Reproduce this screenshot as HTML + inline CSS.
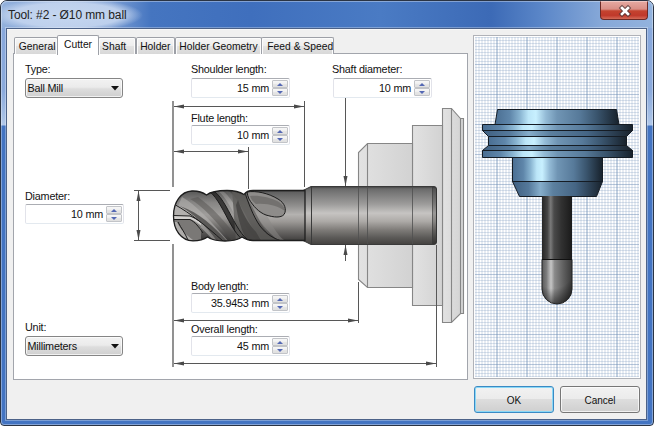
<!DOCTYPE html>
<html><head><meta charset="utf-8">
<style>
*{margin:0;padding:0;box-sizing:border-box}
html,body{width:654px;height:426px;overflow:hidden;background:#fff;font-family:"Liberation Sans",sans-serif;color:#000}
.a{position:absolute}
.t{position:absolute;font-size:10.8px;line-height:12px;white-space:nowrap;color:#111;letter-spacing:-0.2px}
.tab{position:absolute;top:37px;height:17px;border:1px solid #9da0a7;border-bottom:none;border-radius:2px 2px 0 0;background:linear-gradient(#f5f5f5,#eeeeee 50%,#e3e3e3 50%,#d8d8d8);box-shadow:inset 1px 1px 0 #fcfcfc,inset -1px 0 0 #fcfcfc;font-size:10.3px;line-height:17px;white-space:nowrap;color:#111;overflow:hidden}
.spin{position:absolute;width:99px;height:20px;border:1px solid #e2e3ea;border-top-color:#abadb3;border-bottom-color:#e3e9ef;border-radius:2px;background:#fff}
.spin .v{position:absolute;right:20px;top:3px;font-size:10.8px;line-height:12px;color:#111;white-space:nowrap;letter-spacing:-0.2px}
.spin .u,.spin .d{position:absolute;left:80px;width:16px;height:8px;border:1px solid #c2c4c8;border-radius:1px;background:linear-gradient(#f7f7f7,#efefef 50%,#e6e6e6 50%,#e0e0e0)}
.spin .u{top:1px}
.spin .d{top:9px}
.spin .u:after,.spin .d:after{content:"";position:absolute;left:4px;width:0;height:0;border-left:3.5px solid transparent;border-right:3.5px solid transparent}
.spin .u:after{top:1.5px;border-bottom:3.5px solid #5468b4}
.spin .d:after{top:1.5px;border-top:3.5px solid #5468b4}
.combo{position:absolute;width:98px;height:20px;border:1px solid #858585;border-radius:3px;box-shadow:inset 0 0 0 1px rgba(255,255,255,0.7);background:linear-gradient(#f2f2f2,#ebebeb 45%,#dddddd 55%,#cfcfcf);font-size:10.8px;line-height:18px;padding-left:1.5px;color:#111;letter-spacing:-0.2px}
.btn{position:absolute;top:386px;height:27px;border:1px solid #777;border-radius:3px;box-shadow:inset 0 0 0 1px rgba(255,255,255,0.7);background:linear-gradient(#f2f2f2,#ebebeb 50%,#dddddd 50%,#cfcfcf);font-size:10px;line-height:28px;text-align:center;color:#111}
</style></head><body>
<!-- window frame -->
<div class="a" style="left:0;top:0;width:654px;height:426px;border:1px solid #2a3444;border-radius:7px 7px 4px 4px;background:linear-gradient(#9ab6e0 0,#88a8dc 30px,#8baadc 90px,#a9c2e6 118px,#b2c9ea 124px,#4374c2 125px,#4374c2 100%);overflow:hidden">
  <div class="a" style="left:0;top:0;width:652px;height:27px;background:linear-gradient(90deg,#93b1dc 0,#7d9fd4 110px,#5a85c8 135px,#4575c0 150px,#3f6fbd 250px,#4a7bc4 380px,#3c6ab6 490px,#5a86c8 540px,#86a8d8 600px,#93b3de 652px)"></div>
  <div class="a" style="left:-6px;top:0;width:150px;height:28px;background:radial-gradient(ellipse 76px 17px at 72px 14px,rgba(200,217,241,0.95) 0%,rgba(196,213,239,0.9) 72%,rgba(190,208,236,0) 100%)"></div>
</div>
<!-- title -->
<div class="a" style="left:8px;top:8.5px;font-size:12px;line-height:13px;color:#222;white-space:nowrap;letter-spacing:-0.1px">Tool: #2 - Ø10 mm ball</div>
<!-- close button -->
<div class="a" style="left:600px;top:1px;width:48px;height:19px;border:1px solid #6b2a26;border-top:none;border-radius:0 0 4px 4px;background:linear-gradient(#e6aaa3,#d98f86 45%,#c4432f 55%,#c0392b 80%,#d46a58)"></div>
<svg class="a" style="left:617px;top:3px" width="16" height="15" viewBox="0 0 16 15"><path d="M4.5 5 L10.5 11 M10.5 5 L4.5 11" transform="translate(0.5,0)" stroke="#4a3436" stroke-opacity="0.75" stroke-width="4.6" stroke-linecap="square"/><path d="M4.5 5 L10.5 11 M10.5 5 L4.5 11" transform="translate(0.5,0)" stroke="#fff" stroke-width="2.6" stroke-linecap="square"/></svg>
<div class="a" style="left:1px;top:1px;width:652px;height:424px;border:1px solid rgba(255,255,255,0.35);border-radius:6px 6px 3px 3px"></div>
<div class="a" style="left:5px;top:27px;width:643px;height:394px;border:1px solid rgba(255,255,255,0.3)"></div>
<!-- client border and area -->
<div class="a" style="left:6px;top:28px;width:641px;height:392px;border:1px solid #4c6288;background:#f0f0f0"></div>
<div class="a" style="left:7px;top:29px;width:639px;height:1px;background:#f8f8f8"></div>

<!-- tab panel -->
<div class="a" style="left:13px;top:53px;width:455px;height:327px;border:1px solid #a2a5ac;background:#fff"></div>
<div class="tab" style="left:14px;width:44px;padding-left:3.8px">General</div>
<div class="tab" style="left:98px;width:38px;padding-left:3.1px">Shaft</div>
<div class="tab" style="left:136px;width:39px;padding-left:3.2px">Holder</div>
<div class="tab" style="left:175px;width:87px;padding-left:3.3px">Holder Geometry</div>
<div class="tab" style="left:261px;width:73px;padding-left:5.3px">Feed &amp; Speed</div>
<div class="tab" style="left:57px;top:35px;width:42px;height:20px;background:#fff;box-shadow:none;line-height:17px;padding-left:6px">Cutter</div>

<!-- drawings -->
<svg class="a" style="left:0;top:0" width="654" height="426" viewBox="0 0 654 426">
  <defs>
    <linearGradient id="shank" x1="0" y1="0" x2="0" y2="1">
      <stop offset="0" stop-color="#3e3e3e"/>
      <stop offset="0.04" stop-color="#6a6a6a"/>
      <stop offset="0.1" stop-color="#767676"/>
      <stop offset="0.3" stop-color="#9c9b9a"/>
      <stop offset="0.46" stop-color="#c6c4c2"/>
      <stop offset="0.6" stop-color="#adaaa7"/>
      <stop offset="0.75" stop-color="#7e7b78"/>
      <stop offset="0.88" stop-color="#5c5a58"/>
      <stop offset="1" stop-color="#444240"/>
    </linearGradient>
    <linearGradient id="holder" x1="0" y1="0" x2="1" y2="0">
      <stop offset="0" stop-color="#e2e2e2"/>
      <stop offset="1" stop-color="#d2d2d2"/>
    </linearGradient>
    <linearGradient id="blue" x1="0" y1="0" x2="1" y2="0">
      <stop offset="0" stop-color="#4a6e92"/>
      <stop offset="0.12" stop-color="#5f86aa"/>
      <stop offset="0.2" stop-color="#88b3d0"/>
      <stop offset="0.27" stop-color="#bce6f8"/>
      <stop offset="0.33" stop-color="#c8f0ff"/>
      <stop offset="0.41" stop-color="#94bbd6"/>
      <stop offset="0.5" stop-color="#7095b4"/>
      <stop offset="0.68" stop-color="#577a9a"/>
      <stop offset="0.82" stop-color="#3a556e"/>
      <stop offset="1" stop-color="#17212b"/>
    </linearGradient>
    <linearGradient id="blueD" x1="0" y1="0" x2="1" y2="0">
      <stop offset="0" stop-color="#3f5f80"/>
      <stop offset="0.18" stop-color="#55799b"/>
      <stop offset="0.31" stop-color="#86aecb"/>
      <stop offset="0.45" stop-color="#5c809f"/>
      <stop offset="0.7" stop-color="#456584"/>
      <stop offset="1" stop-color="#18222c"/>
    </linearGradient>
    <linearGradient id="dshank" x1="0" y1="0" x2="1" y2="0">
      <stop offset="0" stop-color="#2a2a2a"/>
      <stop offset="0.3" stop-color="#7a7a7a"/>
      <stop offset="0.55" stop-color="#3a3a3a"/>
      <stop offset="1" stop-color="#1a1a1a"/>
    </linearGradient>
    <linearGradient id="dcut" x1="0" y1="0" x2="1" y2="0">
      <stop offset="0" stop-color="#5a5a5a"/>
      <stop offset="0.15" stop-color="#7c7c7c"/>
      <stop offset="0.3" stop-color="#c6c6c6"/>
      <stop offset="0.42" stop-color="#8a8a8a"/>
      <stop offset="0.7" stop-color="#616161"/>
      <stop offset="1" stop-color="#3a3a3a"/>
    </linearGradient>
    <radialGradient id="balldark" gradientUnits="userSpaceOnUse" cx="553" cy="268" r="37">
      <stop offset="0.55" stop-color="#000" stop-opacity="0"/>
      <stop offset="1" stop-color="#000" stop-opacity="0.55"/>
    </radialGradient>
    <linearGradient id="dshank2" x1="0" y1="0" x2="1" y2="0">
      <stop offset="0" stop-color="#262626"/>
      <stop offset="0.18" stop-color="#444"/>
      <stop offset="0.29" stop-color="#7a7a7a"/>
      <stop offset="0.4" stop-color="#4a4a4a"/>
      <stop offset="0.65" stop-color="#313131"/>
      <stop offset="1" stop-color="#1a1a1a"/>
    </linearGradient>
    <linearGradient id="flute" gradientUnits="userSpaceOnUse" x1="0" y1="190" x2="0" y2="241">
      <stop offset="0" stop-color="#3e3e3e"/>
      <stop offset="0.05" stop-color="#626262"/>
      <stop offset="0.3" stop-color="#8e8d8c"/>
      <stop offset="0.48" stop-color="#b4b2b0"/>
      <stop offset="0.62" stop-color="#9c9996"/>
      <stop offset="0.8" stop-color="#6c6a68"/>
      <stop offset="1" stop-color="#3e3d3c"/>
    </linearGradient>
    <marker id="ar" viewBox="0 0 10 5" refX="10" refY="2.5" markerWidth="10" markerHeight="5" markerUnits="userSpaceOnUse" orient="auto-start-reverse">
      <path d="M0 0.5 L10 2.5 L0 4.5 Z" fill="#4a4a4a"/>
    </marker>
  </defs>

  <!-- grid view -->
  <rect x="473.5" y="35.5" width="167" height="343" fill="#fff" stroke="#b0b2b8"/>
<g shape-rendering="crispEdges">
<path d="M475 37.5H639 M475 40.5H639 M475 43.5H639 M475 46.5H639 M475 49.5H639 M475 52.5H639 M475 55.5H639 M475 58.5H639 M475 61.5H639 M475 67.5H639 M475 70.5H639 M475 73.5H639 M475 76.5H639 M475 79.5H639 M475 82.5H639 M475 85.5H639 M475 88.5H639 M475 91.5H639 M475 97.5H639 M475 100.5H639 M475 103.5H639 M475 106.5H639 M475 109.5H639 M475 112.5H639 M475 115.5H639 M475 118.5H639 M475 121.5H639 M475 127.5H639 M475 130.5H639 M475 133.5H639 M475 136.5H639 M475 139.5H639 M475 142.5H639 M475 145.5H639 M475 148.5H639 M475 151.5H639 M475 157.5H639 M475 160.5H639 M475 163.5H639 M475 166.5H639 M475 169.5H639 M475 172.5H639 M475 175.5H639 M475 178.5H639 M475 181.5H639 M475 187.5H639 M475 190.5H639 M475 193.5H639 M475 196.5H639 M475 199.5H639 M475 202.5H639 M475 205.5H639 M475 208.5H639 M475 211.5H639 M475 217.5H639 M475 220.5H639 M475 223.5H639 M475 226.5H639 M475 229.5H639 M475 232.5H639 M475 235.5H639 M475 238.5H639 M475 241.5H639 M475 247.5H639 M475 250.5H639 M475 253.5H639 M475 256.5H639 M475 259.5H639 M475 262.5H639 M475 265.5H639 M475 268.5H639 M475 271.5H639 M475 277.5H639 M475 280.5H639 M475 283.5H639 M475 286.5H639 M475 289.5H639 M475 292.5H639 M475 295.5H639 M475 298.5H639 M475 301.5H639 M475 307.5H639 M475 310.5H639 M475 313.5H639 M475 316.5H639 M475 319.5H639 M475 322.5H639 M475 325.5H639 M475 328.5H639 M475 331.5H639 M475 337.5H639 M475 340.5H639 M475 343.5H639 M475 346.5H639 M475 349.5H639 M475 352.5H639 M475 355.5H639 M475 358.5H639 M475 361.5H639 M475 367.5H639 M475 370.5H639 M475 373.5H639 M475 376.5H639" stroke="rgb(122,150,188)" stroke-opacity="0.27" stroke-width="1"/>
</g>
<path d="M476 37V377 M479 37V377 M482 37V377 M485 37V377 M488 37V377 M491 37V377 M494 37V377 M500 37V377 M503 37V377 M506 37V377 M509 37V377 M512 37V377 M515 37V377 M518 37V377 M521 37V377 M524 37V377 M530 37V377 M533 37V377 M536 37V377 M539 37V377 M542 37V377 M545 37V377 M548 37V377 M551 37V377 M554 37V377 M560 37V377 M563 37V377 M566 37V377 M569 37V377 M572 37V377 M575 37V377 M578 37V377 M581 37V377 M584 37V377 M590 37V377 M593 37V377 M596 37V377 M599 37V377 M602 37V377 M605 37V377 M608 37V377 M611 37V377 M614 37V377 M620 37V377 M623 37V377 M626 37V377 M629 37V377 M632 37V377 M635 37V377 M638 37V377" stroke="rgb(122,150,188)" stroke-opacity="0.36" stroke-width="1"/>
<path d="M475 64.5H639 M475 94.5H639 M475 124.5H639 M475 154.5H639 M475 184.5H639 M475 214.5H639 M475 244.5H639 M475 274.5H639 M475 304.5H639 M475 334.5H639 M475 364.5H639" stroke="rgb(108,140,180)" stroke-opacity="0.48" stroke-width="1" shape-rendering="crispEdges"/>
<path d="M497 37V377 M527 37V377 M557 37V377 M587 37V377 M617 37V377" stroke="rgb(108,140,180)" stroke-opacity="0.8" stroke-width="1"/>

  <!-- 3D holder (blue) -->
  <g stroke="#151c24" stroke-width="1">
    <path d="M497.5 109.5 L616.5 109.5 L619 124.5 L495 124.5 Z" fill="url(#blue)"/>
    <path d="M482.5 124.5 L632.5 124.5 L632.5 130.5 L482.5 130.5 Z" fill="url(#blue)"/>
    <path d="M482.5 130.5 L632.5 130.5 L626.5 136.5 L488.5 136.5 Z" fill="url(#blueD)"/>
    <path d="M488.5 136.5 L626.5 136.5 L626.5 145.5 L488.5 145.5 Z" fill="url(#blue)"/>
    <path d="M488.5 145.5 L626.5 145.5 L632.5 150.5 L482.5 150.5 Z" fill="url(#blueD)"/>
    <path d="M482.5 150.5 L632.5 150.5 L632.5 157.5 L482.5 157.5 Z" fill="url(#blue)"/>
    <path d="M512.5 157.5 L602.5 157.5 L602.5 181.5 L512.5 181.5 Z" fill="url(#blue)"/>
    <path d="M512.5 181.5 L602.5 181.5 L596.5 196.5 L519.5 196.5 Z" fill="url(#blueD)"/>
  </g>
  <rect x="542" y="196" width="30" height="64" fill="url(#dshank2)"/>
  <path d="M542 259.5 L572 259.5 L572 289 A15 15 0 0 1 542 289 Z" fill="url(#dcut)"/><path d="M542 259.5 L572 259.5 L572 289 A15 15 0 0 1 542 289 Z" fill="url(#balldark)" stroke="#222" stroke-width="1"/>
  <line x1="542" y1="259.5" x2="572" y2="259.5" stroke="#111"/>

  <!-- tool diagram: holder -->
  <g fill="url(#holder)" stroke="#868686" stroke-width="1.1">
    <path d="M442.5 108.5 L451.5 108.5 L460.5 118.5 L463.5 118.5 L463.5 313.5 L460.5 313.5 L451.5 322.5 L442.5 322.5 Z"/>
    <path d="M412.5 125.5 L442.5 125.5 L442.5 305.5 L412.5 305.5 Z"/>
    <path d="M367.5 143.5 L412.5 143.5 L412.5 287.5 L367.5 287.5 L358.5 279.5 L358.5 152.5 Z"/>
    <line x1="451.5" y1="108.5" x2="451.5" y2="322.5"/>
    <line x1="460.5" y1="118.5" x2="460.5" y2="313.5"/>
    <line x1="367.5" y1="143.5" x2="367.5" y2="287.5"/>
  </g>

  <!-- shank -->
  <path d="M303 190.5 L311 186.5 L434 186.5 Q436.5 186.5 436.5 189 L436.5 242 Q436.5 244.5 434 244.5 L311 244.5 L303 240.5 Z" fill="url(#shank)" stroke="#3a3a3a" stroke-width="1"/>
  <line x1="311.5" y1="187" x2="311.5" y2="244" stroke="#3a3a3a"/>
  <path d="M432 187 L434 187 Q436.5 187 436.5 189.5 L436.5 241.5 Q436.5 244 434 244 L432 244 Z" fill="#000" opacity="0.22"/>
  <line x1="432.5" y1="187" x2="432.5" y2="244" stroke="#3a3a3a" stroke-opacity="0.6"/>
  <g stroke="#505050" stroke-width="1" opacity="0.8">
    <line x1="358.5" y1="187" x2="358.5" y2="244"/>
    <line x1="367.5" y1="187" x2="367.5" y2="244"/>
    <line x1="412.5" y1="187" x2="412.5" y2="244"/>
  </g>

  <!-- cutter flutes -->
  <clipPath id="cutclip"><path d="M173.5 216 C173.5 202 181 191.5 192 191 C198 190.8 203 192.5 206.5 195 C211 191.5 219 190.5 227 190.5 C234 190.5 240 192 244 194.5 C246 191.5 249 190.5 253 190.5 L305 190.5 L305 240.5 L253 240.5 C249 240.5 245 239 242 237 C238 240 231 241 225 241 C218 241 211 239.5 207.5 237 C204 239.5 199 240.8 193 240.8 C181 240.5 173.5 230 173.5 216 Z"/></clipPath>
  <g clip-path="url(#cutclip)">
  <rect x="170" y="188" width="140" height="56" fill="url(#flute)"/>
  <path d="M140.0 189.0 C158.4 190.1 167.6 240.9 186.0 242.0 L290.0 242.0 C271.6 240.9 262.4 190.1 244.0 189.0 Z" fill="#8a8886" opacity="0.5"/>
  <clipPath id="rclip"><rect x="199" y="185" width="120" height="60"/></clipPath>
  <g>
  <path d="M212.0 189.0 C230.4 190.1 239.6 240.9 258.0 242.0 L263.0 242.0 C244.6 240.9 235.4 190.1 217.0 189.0 Z" fill="#bebcba" opacity="0.5"/>
  <path d="M223.0 189.0 C241.4 190.1 250.6 240.9 269.0 242.0 L280.0 242.0 C261.6 240.9 252.4 190.1 234.0 189.0 Z" fill="#4e4c4a" opacity="0.55"/>
  <path d="M203.0 189.0 C221.4 190.1 230.6 240.9 249.0 242.0 L254.0 242.0 C235.6 240.9 226.4 190.1 208.0 189.0 Z" fill="#3a3938"/>
  </g>
  <linearGradient id="fshade" gradientUnits="userSpaceOnUse" x1="0" y1="190" x2="0" y2="241"><stop offset="0" stop-color="#000" stop-opacity="0.25"/><stop offset="0.25" stop-color="#000" stop-opacity="0"/><stop offset="0.55" stop-color="#000" stop-opacity="0"/><stop offset="1" stop-color="#000" stop-opacity="0.45"/></linearGradient>
  <path d="M170 188 L246 188 C250 205 258 225 282 244 L170 244 Z" fill="url(#fshade)"/>
  <path d="M182 197 C196 205 210 220 228 241 L214 241 C202 228 192 218 178 206 Z" fill="#b6b4b2" opacity="0.55"/>
  <path d="M180 206 C194 214 206 226 217 241 L227 241 C213 226 200 213 180 206 Z" fill="#3e3d3c" opacity="0.7"/>
  <path d="M190 199 C202 206 214 218 232 241 L240 241 C224 220 212 207 198 197 Z" fill="#504e4c" opacity="0.45"/>
  <path d="M244 190 C248 202 253 216 260 226 C267 235 274 239 285 242 L236 242 L232 190 Z" fill="#5e5c5a" opacity="0.8"/>
  <path d="M238 200 C242 212 248 224 256 232 L262 242 L248 242 C242 232 238 220 236 205 Z" fill="#3e3d3c" opacity="0.7"/>
  <path d="M247 192 C256 190.5 268 193 278 199 C285 203 287 210 284 214.5 C281 218 274 217.5 266 215 C259 212.5 253 206 249 199 C248 197 247.5 194.5 247 192 Z" fill="#8e8c8a"/>
  <path d="M250 196 C258 195 270 197 279 202 C283 205 285 208 285 211 C278 206 268 203 256 204 C253 202 251 199 250 196 Z" fill="#6a6866" opacity="0.75"/>
  <path d="M173 204.5 L176 204.5 C184 209 192 214 201 222 L201 226 C196 222 193 219.5 190 218.5 L173 218.5 Z" fill="#b2b0ae"/>
  <path d="M173 215.5 L190 216 C194 217.5 198 220 201 222.5 L201 225 C197 222 194 220 190 219.2 L173 219 Z" fill="#d2d0ce"/>
  <path d="M173 219.5 L190 219.5 C194 221 198 223.5 201 226 L201 241 L186 241 C179 236 174 228 173 219.5 Z" fill="#7a7876"/>
  <path d="M173 222 C176 231 181 236 188 240 L193 240 C186 235 180 229 177 222 Z" fill="#aeacaa"/>
  <path d="M203.0 189.0 C221.4 190.1 230.6 240.9 249.0 242.0 M208.0 189.0 C226.4 190.1 235.6 240.9 254.0 242.0 M244 190 C248 202 253 216 260 226 C267 235 274 239 285 242 M247 192 C256 190.5 268 193 278 199 C285 203 287 210 284 214.5 C281 218 274 217.5 266 215 C259 212.5 253 206 249 199 C248 197 247.5 194.5 247 192 Z M175.5 205 C190 213 205 225 223 241 M173 215.5 L190 216 C194 217.5 198 220 201 222.5 M173 219.5 L190 219.5 C195 222 199 227 203 233 M188 240 C185 233 181 228 178 222" fill="none" stroke="#1c1c1c" stroke-width="1"/>
  </g>
  <path d="M173.5 216 C173.5 202 181 191.5 192 191 C198 190.8 203 192.5 206.5 195 C211 191.5 219 190.5 227 190.5 C234 190.5 240 192 244 194.5 C246 191.5 249 190.5 253 190.5 L305 190.5 L305 240.5 L253 240.5 C249 240.5 245 239 242 237 C238 240 231 241 225 241 C218 241 211 239.5 207.5 237 C204 239.5 199 240.8 193 240.8 C181 240.5 173.5 230 173.5 216 Z" fill="none" stroke="#1e1e1e" stroke-width="1.3"/>

  <!-- dimension lines -->
  <g stroke="#575757" stroke-width="1" fill="none">
    <line x1="173" y1="101" x2="173" y2="187" stroke-width="1.3"/>
    <line x1="173" y1="244" x2="173" y2="367" stroke-width="1.3"/>
    <line x1="304.5" y1="101" x2="304.5" y2="187"/>
    <line x1="248.5" y1="147" x2="248.5" y2="189"/>
    <line x1="358.5" y1="282" x2="358.5" y2="323"/>
    <line x1="436.5" y1="245" x2="436.5" y2="367"/>
    <line x1="134" y1="190.5" x2="170" y2="190.5"/>
    <line x1="134" y1="240.5" x2="170" y2="240.5"/>
    <line x1="174" y1="106.5" x2="304" y2="106.5" marker-start="url(#ar)" marker-end="url(#ar)"/>
    <line x1="174" y1="151.5" x2="248" y2="151.5" marker-start="url(#ar)" marker-end="url(#ar)"/>
    <line x1="174" y1="320.5" x2="358" y2="320.5" marker-start="url(#ar)" marker-end="url(#ar)"/>
    <line x1="174" y1="363.5" x2="436" y2="363.5" marker-start="url(#ar)" marker-end="url(#ar)"/>
    <line x1="138.5" y1="191" x2="138.5" y2="240" marker-start="url(#ar)" marker-end="url(#ar)"/>
    <line x1="345.5" y1="97" x2="345.5" y2="186" marker-end="url(#ar)"/>
    <line x1="345.5" y1="261" x2="345.5" y2="245" marker-end="url(#ar)"/>
  </g>
</svg>

<!-- widgets -->
<div class="t" style="left:25px;top:63px">Type:</div>
<div class="combo" style="left:25px;top:78px">Ball Mill<svg class="a" style="left:85px;top:7px" width="8" height="5"><path d="M0 0 L8 0 L4 4.5 Z" fill="#111"/></svg></div>

<div class="t" style="left:191px;top:63px">Shoulder length:</div>
<div class="spin" style="left:191px;top:78px"><div class="v">15 mm</div><div class="u"></div><div class="d"></div></div>

<div class="t" style="left:332px;top:63px">Shaft diameter:</div>
<div class="spin" style="left:333px;top:78px"><div class="v">10 mm</div><div class="u"></div><div class="d"></div></div>

<div class="t" style="left:191px;top:112px">Flute length:</div>
<div class="spin" style="left:191px;top:125px"><div class="v">10 mm</div><div class="u"></div><div class="d"></div></div>

<div class="t" style="left:25px;top:190px">Diameter:</div>
<div class="spin" style="left:25px;top:204px"><div class="v">10 mm</div><div class="u"></div><div class="d"></div></div>

<div class="t" style="left:191px;top:280px">Body length:</div>
<div class="spin" style="left:191px;top:293px"><div class="v">35.9453 mm</div><div class="u"></div><div class="d"></div></div>

<div class="t" style="left:191px;top:323px">Overall length:</div>
<div class="spin" style="left:191px;top:336px"><div class="v">45 mm</div><div class="u"></div><div class="d"></div></div>

<div class="t" style="left:25px;top:321px">Unit:</div>
<div class="combo" style="left:25px;top:336px">Millimeters<svg class="a" style="left:85px;top:7px" width="8" height="5"><path d="M0 0 L8 0 L4 4.5 Z" fill="#111"/></svg></div>

<!-- buttons -->
<div class="btn" style="left:474px;width:80px;border-color:#3a8ac4;box-shadow:inset 0 0 0 1px #8ad8f6">OK</div>
<div class="btn" style="left:560px;width:80px">Cancel</div>
</body></html>
